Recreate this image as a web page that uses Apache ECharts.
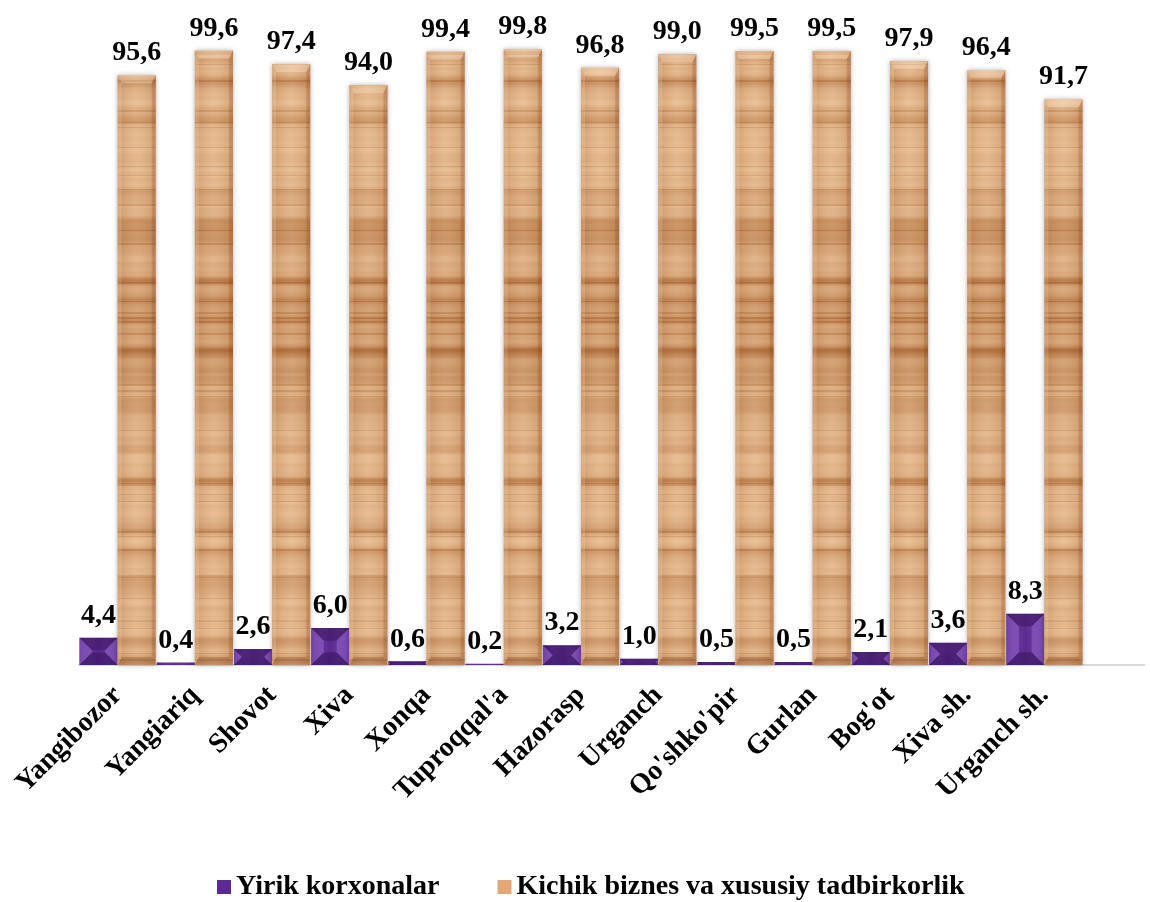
<!DOCTYPE html>
<html>
<head>
<meta charset="utf-8">
<script src="https://cdn.jsdelivr.net/npm/echarts@6/dist/echarts.min.js"></script>
<style>html,body{margin:0;padding:0;background:#fff}#c{width:1150px;height:902px}</style>
</head>
<body>
<div id="c"></div>
<script>
const categories = ["Yangibozor","Yangiariq","Shovot","Xiva","Xonqa","Tuproqqal'a","Hazorasp","Urganch","Qo'shko'pir","Gurlan","Bog'ot","Xiva sh.","Urganch sh."];
const yirik = [4.4,0.4,2.6,6.0,0.6,0.2,3.2,1.0,0.5,0.5,2.1,3.6,8.3];
const kichik = [95.6,99.6,97.4,94.0,99.4,99.8,96.8,99.0,99.5,99.5,97.9,96.4,91.7];
const seriesNames = ["Yirik korxonalar","Kichik biznes va xususiy tadbirkorlik"];

// wood texture pattern (deterministic smooth grain)
function hash(i){ return Math.abs(Math.sin(i*12.9898+1.7)*43758.5453) % 1; }
function noise(y, s){
  const f = y / s, i = Math.floor(f), t = f - i;
  const u = t*t*(3-2*t);
  return hash(i)*(1-u) + hash(i+1)*u;
}
function woodCanvas(){
  const c = document.createElement('canvas');
  c.width = 4; c.height = 902;
  const g = c.getContext('2d');
  const L = [248,210,168], D = [168,98,44];
  for (let y = 0; y < 902; y++) {
    const band = Math.exp(-Math.pow((y-330)/80,2));
    let d = 0.2 + Math.pow(noise(y, 10), 4) * 0.55 + 0.12*noise(y+37, 3) + band*0.22;
    if (noise(y, 2.3) > 0.86) d += 0.22;
    d = Math.min(1, d);
    const col = L.map((v,k)=>Math.round(v + (D[k]-v)*d));
    g.fillStyle = 'rgb(' + col.join(',') + ')';
    g.fillRect(0, y, 4, 1);
  }
  return c;
}
const wood = woodCanvas();
const woodFill = {image:wood, repeat:'repeat'};

const fmtNum = v => v.toFixed(1).replace('.', ',');
const labelFont = {fontFamily:'Liberation Serif', fontWeight:'bold', fontSize:28};

function makeRender(side, fill, isWood){
  return function(params, api){
    const i = api.value(0), v = api.value(1);
    const top = api.coord([i, v]), base = api.coord([i, 0]);
    const bw = api.size([1, 0])[0];
    const gap = bw*0.006;
    const w = bw/2 - gap;
    const x0 = side === 0 ? top[0] - w : top[0];
    const y0 = top[1], h = base[1] - top[1];
    const b = isWood ? Math.min(8, h/2, w/4) : Math.min(h/2, w/3);
    const sb = isWood ? Math.min(4, w/6) : b;
    const children = [];
    children.push({type:'rect', shape:{x:x0, y:y0, width:w, height:h},
      style:{fill:fill, shadowColor: isWood ? 'rgba(0,0,0,0.3)' : 'rgba(0,0,0,0)', shadowBlur: isWood ? 5 : 0}});
    children.push({type:'rect', shape:{x:x0, y:y0, width:w, height:h},
      style:{fill:new echarts.graphic.LinearGradient(0,0,1,0,[
        {offset:0, color: isWood ? 'rgba(160,95,45,0.25)' : 'rgba(40,10,80,0.2)'},
        {offset:0.5, color: isWood ? 'rgba(255,240,220,0.12)' : 'rgba(255,255,255,0)'},
        {offset:1, color: isWood ? 'rgba(160,95,45,0.25)' : 'rgba(40,10,80,0.2)'}])}});
    if (h > 3) {
      children.push({type:'polygon', shape:{points:[[x0,y0],[x0+w,y0],[x0+w-sb,y0+b],[x0+sb,y0+b]]},
        style:{fill: isWood ? 'rgba(255,235,210,0.35)' : 'rgba(40,10,70,0.35)'}});
      children.push({type:'polygon', shape:{points:[[x0,y0+h],[x0+w,y0+h],[x0+w-sb,y0+h-b],[x0+sb,y0+h-b]]},
        style:{fill: isWood ? 'rgba(120,60,20,0.3)' : 'rgba(30,5,60,0.35)'}});
      children.push({type:'polygon', shape:{points:[[x0,y0],[x0+sb,y0+b],[x0+sb,y0+h-b],[x0,y0+h]]},
        style:{fill: isWood ? 'rgba(255,235,210,0.2)' : 'rgba(170,120,230,0.4)'}});
      children.push({type:'polygon', shape:{points:[[x0+w,y0],[x0+w-sb,y0+b],[x0+w-sb,y0+h-b],[x0+w,y0+h]]},
        style:{fill: isWood ? 'rgba(120,60,20,0.2)' : 'rgba(170,120,230,0.4)'}});
    }
    children.push({type:'text', style:Object.assign({text:fmtNum(v), x:x0 + w/2, y:y0 - 8,
      align:'center', verticalAlign:'bottom', fill:'#000'}, labelFont)});
    return {type:'group', children:children};
  };
}

const chart = echarts.init(document.getElementById('c'));
chart.setOption({
  animation:false,
  grid:{left:79, right:67, top:48, bottom:237},
  legend:{
    data:seriesNames, left:212, top:868, itemWidth:14, itemHeight:14, itemGap:58,
    icon:'rect',
    textStyle:{fontFamily:'Liberation Serif', fontWeight:'bold', fontSize:28, color:'#000'}
  },
  xAxis:{
    type:'category', data:categories,
    axisLine:{show:true, lineStyle:{color:'#d9d9d9', width:2}},
    axisTick:{show:false},
    axisLabel:{rotate:45, interval:0, margin:26, fontFamily:'Liberation Serif', fontWeight:'bold', fontSize:28, color:'#000'}
  },
  yAxis:{type:'value', min:0, max:100, show:false, splitLine:{show:false}},
  graphic:[{type:'line', shape:{x1:1082, y1:665, x2:1145, y2:665}, style:{stroke:'#d9d9d9', lineWidth:2}}],
  series:[
    {name:seriesNames[0], type:'custom', renderItem:makeRender(0, '#5c2a90', false),
     itemStyle:{color:'#5c2a90'}, encode:{x:0, y:1},
     data:yirik.map((v,i)=>[i, v])},
    {name:seriesNames[1], type:'custom', renderItem:makeRender(1, woodFill, true),
     itemStyle:{color:'#e2a877'}, encode:{x:0, y:1},
     data:kichik.map((v,i)=>[i, v])}
  ]
});
</script>
</body>
</html>
